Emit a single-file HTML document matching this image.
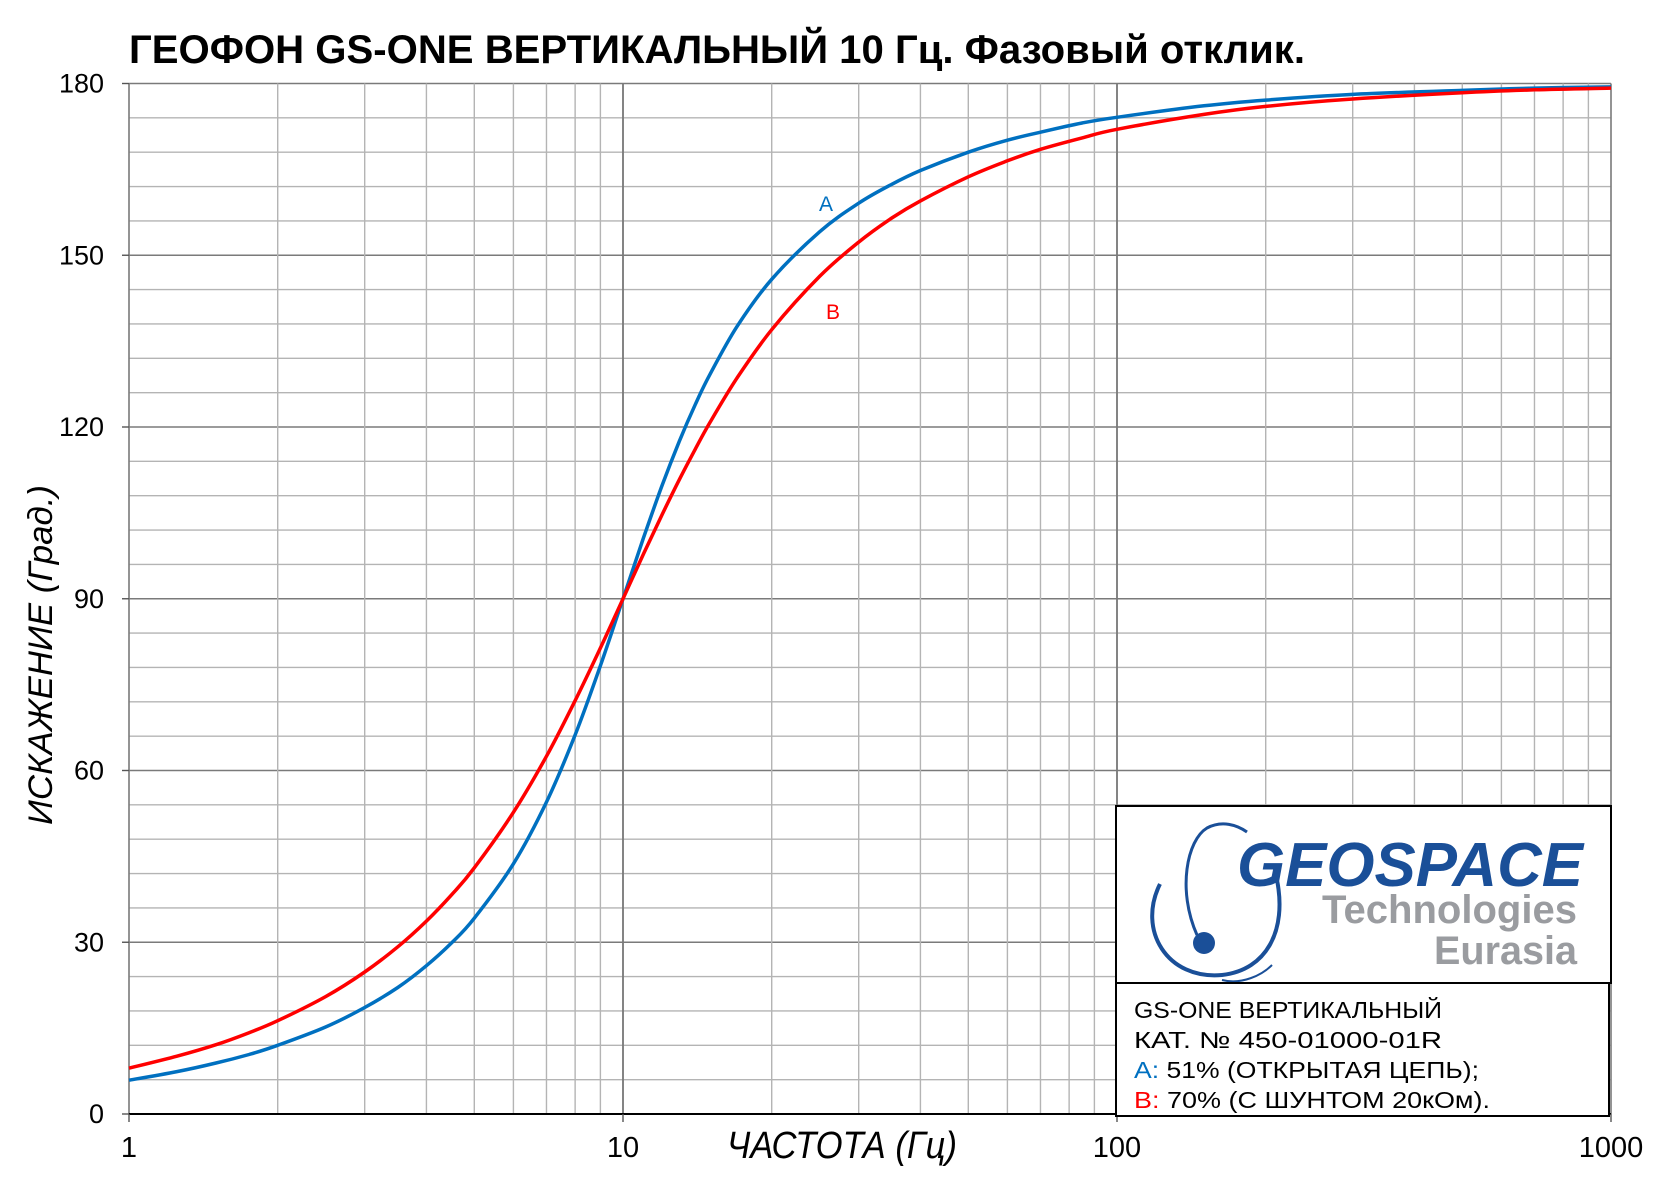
<!DOCTYPE html>
<html><head><meta charset="utf-8"><style>
html,body{margin:0;padding:0;background:#fff;}
svg{display:block;font-family:"Liberation Sans Narrow","Liberation Sans","DejaVu Sans",sans-serif;}
</style></head><body>
<svg id="chart" width="1680" height="1192" viewBox="0 0 1680 1192">
<text x="129" y="63" font-size="40" font-weight="bold" textLength="1176" lengthAdjust="spacingAndGlyphs" fill="#000">ГЕОФОН GS-ONE ВЕРТИКАЛЬНЫЙ 10 Гц. Фазовый отклик.</text>
<g id="grid"></g>
<g id="yticks"></g>
<g id="xticks"></g>
<text transform="translate(52,655) rotate(-90)" text-anchor="middle" font-size="34" font-style="italic" textLength="340" lengthAdjust="spacingAndGlyphs">ИСКАЖЕНИЕ (Град.)</text>
<text x="727" y="1158" font-size="38" font-style="italic" textLength="230" lengthAdjust="spacingAndGlyphs">ЧАСТОТА (Гц)</text>
<g id="series"></g>
<text x="819" y="211" font-size="21" fill="#0070c0">A</text>
<text x="826" y="319" font-size="21" fill="#ff0000">B</text>
<g>
<rect x="1116" y="806" width="495" height="177" fill="#fff" stroke="#000" stroke-width="2"/>
<path d="M1160,884 C1137,930 1167,980 1222,975 C1267,970 1287,930 1277,880" fill="none" stroke="#1a4f98" stroke-width="4"/>
<path d="M1197,935 C1177,890 1187,840 1207,828 C1222,820 1237,825 1247,832" fill="none" stroke="#1a4f98" stroke-width="3"/>
<path d="M1222,980 C1242,985 1262,975 1272,965" fill="none" stroke="#1a4f98" stroke-width="2"/>
<circle cx="1204" cy="943" r="11" fill="#1a4f98"/>
<text x="1237" y="886" font-family="Liberation Sans" font-size="62" font-weight="bold" font-style="italic" fill="#1a4f98" textLength="346" lengthAdjust="spacingAndGlyphs">GEOSPACE</text>
<text x="1322" y="923" font-family="Liberation Sans" font-size="40" font-weight="bold" fill="#9a9ca0" textLength="255" lengthAdjust="spacingAndGlyphs">Technologies</text>
<text x="1434" y="964" font-family="Liberation Sans" font-size="40" font-weight="bold" fill="#9a9ca0" textLength="143" lengthAdjust="spacingAndGlyphs">Eurasia</text>
</g>
<g>
<rect x="1116" y="983" width="493" height="133" fill="#fff" stroke="#000" stroke-width="2"/>
<g font-family="Liberation Sans" font-size="23">
<text x="1134" y="1018" textLength="308" lengthAdjust="spacingAndGlyphs">GS-ONE ВЕРТИКАЛЬНЫЙ</text>
<text x="1134" y="1048" textLength="308" lengthAdjust="spacingAndGlyphs">КАТ.  №  450-01000-01R</text>
<text x="1134" y="1078" textLength="345" lengthAdjust="spacingAndGlyphs"><tspan fill="#0070c0">A:</tspan> 51% (ОТКРЫТАЯ ЦЕПЬ);</text>
<text x="1134" y="1108" textLength="356" lengthAdjust="spacingAndGlyphs"><tspan fill="#ff0000">B:</tspan> 70% (С ШУНТОМ 20кОм).</text>
</g>
</g>
</svg>
<script>
const freqs = [1,1.25,1.5,1.75,2,2.5,3,3.5,4,4.5,5,6,7,8,9,10,11,12,13,14,15,17,20,25,30,35,40,50,60,70,85,100,150,200,300,500,700,1000];
const seriesA = [5.9,7.4,8.9,10.4,12.0,15.2,18.6,22.1,25.9,29.9,34.2,43.7,54.5,66.2,78.3,90,100.6,109.8,117.5,123.9,129.2,137.5,145.8,154.1,159.1,162.4,164.8,168.0,170.1,171.5,173.1,174.1,176.1,177.1,178.1,178.8,179.2,179.4];
const seriesB = [8.0,10.1,12.1,14.2,16.3,20.5,24.8,29.2,33.7,38.3,43.0,52.7,62.5,72.2,81.4,90,97.8,104.7,110.8,116.1,120.8,128.5,137.0,146.3,152.3,156.5,159.5,163.7,166.5,168.5,170.5,172.0,174.6,176.0,177.3,178.4,178.9,179.2];
const yTicks = [0,30,60,90,120,150,180];
const xTicks = [1,10,100,1000];
const X0=129,X1=1611,Y0=1114,Y1=83.5;
function sx(f){return X0+Math.log10(f)/3*(X1-X0);}
function sy(v){return Y0-(v/180)*(Y0-Y1);}
const NS='http://www.w3.org/2000/svg';
function mk(tag,attrs,parent){const e=document.createElementNS(NS,tag);for(const k in attrs)e.setAttribute(k,attrs[k]);parent.appendChild(e);return e;}
const grid=document.getElementById('grid');
for(let v=0;v<=180;v+=6){
  const major=v%30===0;
  const l=mk('line',{x1:X0,x2:X1,y1:sy(v),y2:sy(v),stroke:major?'#7a7a7a':'#b4b4b4','stroke-width':major?1.6:1.4},grid);
  
  
}
for(let d=1;d<1000;d*=10){
  for(let m=1;m<=10;m++){
    const f=d*m; const major=(m===1||m===10);
    const l=mk('line',{x1:sx(f),x2:sx(f),y1:Y1,y2:Y0,stroke:major?'#7a7a7a':'#b4b4b4','stroke-width':major?1.6:1.4},grid);
    
    
  }
}
const ax=mk('line',{x1:X0,x2:X1,y1:Y0,y2:Y0,stroke:'#000','stroke-width':2},grid);


const yg=document.getElementById('yticks');
yTicks.forEach(v=>{
  const t=mk('text',{x:104,y:sy(v)+9,'text-anchor':'end','font-size':27},yg);
  t.textContent=v;
  
  
  mk('line',{x1:122,x2:X0,y1:sy(v),y2:sy(v),stroke:'#555','stroke-width':1.4},yg);
});
const xg=document.getElementById('xticks');
xTicks.forEach(f=>{
  const t=mk('text',{x:sx(f),y:1157,'text-anchor':'middle','font-size':29},xg);
  t.textContent=f;
  
  
  mk('line',{x1:sx(f),x2:sx(f),y1:Y0,y2:Y0+8,stroke:'#555','stroke-width':1.4},xg);
});
function pathFor(vals){
  const p=freqs.map((f,i)=>[sx(f),sy(vals[i])]);
  let d='M'+p[0][0].toFixed(1)+','+p[0][1].toFixed(1);
  for(let i=0;i<p.length-1;i++){
    const a=p[i-1]||p[i],b=p[i],c=p[i+1],e=p[i+2]||c;
    const c1=[b[0]+(c[0]-a[0])/6,b[1]+(c[1]-a[1])/6],c2=[c[0]-(e[0]-b[0])/6,c[1]-(e[1]-b[1])/6];
    d+=' C'+c1[0].toFixed(1)+','+c1[1].toFixed(1)+' '+c2[0].toFixed(1)+','+c2[1].toFixed(1)+' '+c[0].toFixed(1)+','+c[1].toFixed(1);
  }
  return d;
}
const sg=document.getElementById('series');
const pa=mk('path',{d:pathFor(seriesA),fill:'none',stroke:'#0070c0','stroke-width':3.5},sg);


const pb=mk('path',{d:pathFor(seriesB),fill:'none',stroke:'#ff0000','stroke-width':3.5},sg);


</script>
</body></html>
